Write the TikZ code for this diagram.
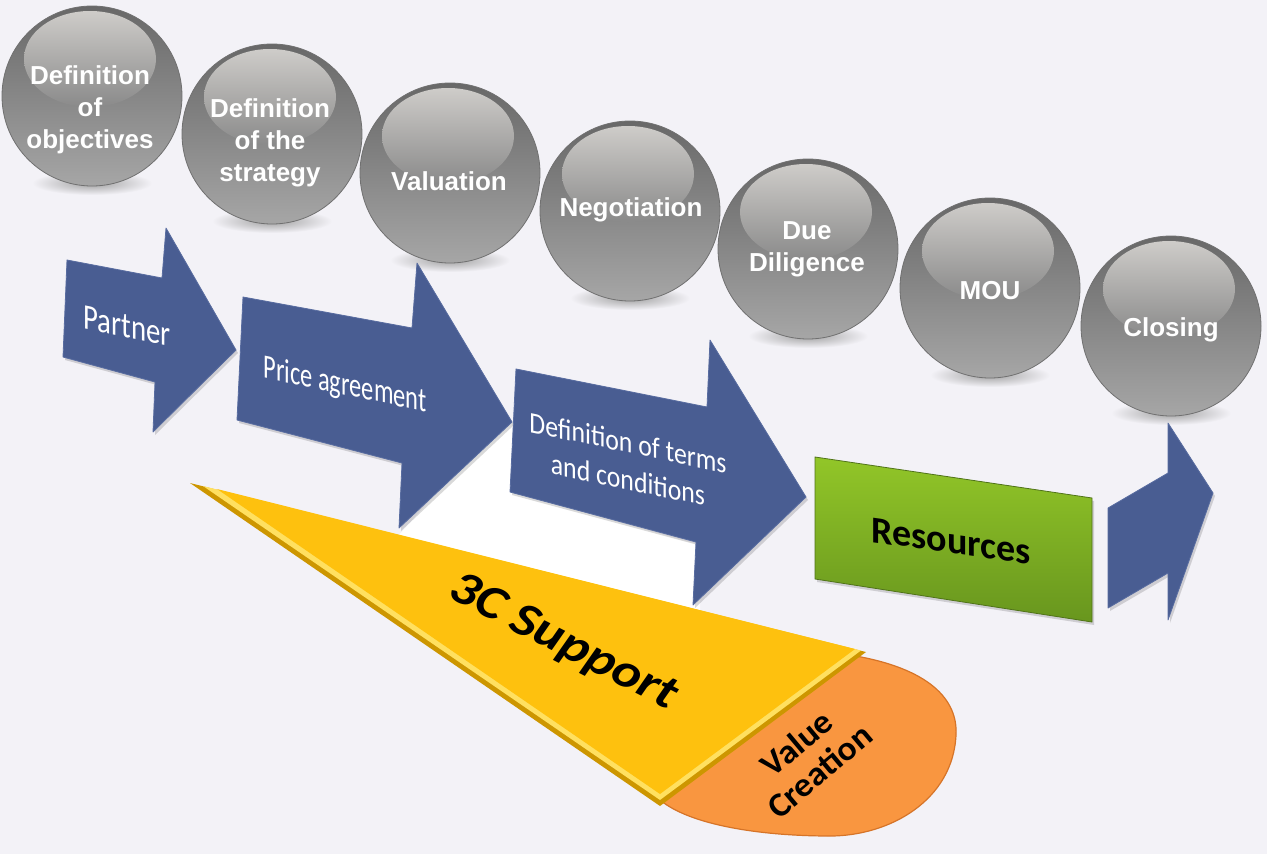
\documentclass[tikz,border=0pt]{standalone}
\usepackage{fontspec}
\setmainfont{Liberation Sans}
\newfontfamily\calfont{Carlito}
\usetikzlibrary{shapes.geometric}
\definecolor{bg}{RGB}{243,242,247}
\definecolor{arrowblue}{RGB}{73,93,146}
\definecolor{arrowedge}{RGB}{88,108,160}
\definecolor{goldmain}{RGB}{254,193,14}
\definecolor{golddark}{RGB}{205,150,0}
\definecolor{goldlight}{RGB}{255,224,96}
\definecolor{orangemain}{RGB}{249,150,64}
\definecolor{orangedark}{RGB}{214,116,40}
\definecolor{greenlight}{RGB}{146,198,40}
\definecolor{greendark}{RGB}{104,150,30}
\definecolor{greenedge}{RGB}{80,115,25}
\definecolor{balltop}{RGB}{104,104,104}
\definecolor{ballmid}{RGB}{138,138,138}
\definecolor{ballbot}{RGB}{166,166,166}
\definecolor{ballrim}{RGB}{112,112,112}
\definecolor{hltop}{RGB}{206,204,201}
\definecolor{hlbot}{RGB}{138,138,138}
\definecolor{shadowgray}{RGB}{160,160,160}
\tikzset{
  ballshadow/.style={ellipse, inner sep=0pt, minimum width=120pt, minimum height=24pt, inner color=shadowgray, outer color=bg},
  ball/.style={circle, inner sep=0pt, minimum size=180pt, top color=balltop, middle color=ballmid, bottom color=ballbot, draw=ballrim, line width=0.8pt},
  ballhl/.style={ellipse, inner sep=0pt, minimum width=132pt, minimum height=96pt, top color=hltop, bottom color=hlbot},
  balltext/.style={text=white, font=\bfseries\fontsize{26}{32}\selectfont, align=center, inner sep=0pt},
  bluearrow/.style={fill=arrowblue, draw=arrowedge, line width=0.8pt, line join=round},
  arrowshade/.style={fill=black, opacity=0.15},
  arrowtext/.style={text=white, inner sep=0pt, align=center},
  blacktext/.style={text=black, inner sep=0pt, align=center}
}
\begin{document}
\begin{tikzpicture}[x=1pt,y=-1pt]
\fill[bg] (0,0) rectangle (1267,854);
\useasboundingbox (0,0) rectangle (1267,854);

% sphere shadows
\foreach \i/\cx/\cy in {1/92/96, 2/272/134, 3/450/173, 4/630/211, 5/808/249, 6/990/288, 7/1171/326}{
  \node[ballshadow] (sh\i) at (\cx,\cy+87) {};
}
% spheres
\foreach \i/\cx/\cy in {1/92/96, 2/272/134, 3/450/173, 4/630/211, 5/808/249, 6/990/288, 7/1171/326}{
  \node[ball] (s\i) at (\cx,\cy) {};
  \node[ballhl] (h\i) at (\cx-2,\cy-37) {};
}
\node[balltext] (t1) at (90,110) {Definition\\of\\objectives};
\node[balltext] (t2) at (270,143) {Definition\\of the\\strategy};
\node[balltext] (t3) at (449,181) {Valuation};
\node[balltext] (t4) at (631,210) {Negotiation};
\node[balltext] (t5) at (807,249) {Due\\Diligence};
\node[balltext] (t6) at (990,291) {MOU};
\node[balltext] (t7) at (1171,330) {Closing};

% white patch
\fill[white] (500,422) -- (516,422) -- (512,492) -- (700,545) -- (700,612) -- (398,536) -- cycle;

% arrow shadows
\fill[arrowshade] (69,263) -- (164,281) -- (168,231) -- (238,353) -- (155,435) -- (157,385) -- (65,360) -- cycle;
\fill[arrowshade] (245,300) -- (414,331) -- (419,266) -- (514,425) -- (401,531) -- (404,466) -- (239,423) -- cycle;
\fill[arrowshade] (518,372) -- (709,410) -- (712,343) -- (808,500) -- (695,608) -- (698,545) -- (512,495) -- cycle;
\fill[arrowshade] (1110,511) -- (1170,476) -- (1170,426) -- (1215,496) -- (1170,623) -- (1170,576) -- (1110,611) -- cycle;
\fill[arrowshade] (817,460) -- (1094,501) -- (1094,625) -- (817,582) -- cycle;

% blue arrows
\path[bluearrow] (67,260) -- (162,278) -- (166,228) -- (236,350) -- (153,432) -- (155,382) -- (63,357) -- cycle;
\path[bluearrow] (243,297) -- (412,328) -- (417,263) -- (512,422) -- (399,528) -- (402,463) -- (237,420) -- cycle;
\path[bluearrow] (516,369) -- (707,407) -- (710,340) -- (806,497) -- (693,605) -- (696,542) -- (510,492) -- cycle;
\path[bluearrow] (1108,508) -- (1168,473) -- (1168,423) -- (1213,493) -- (1168,620) -- (1168,573) -- (1108,608) -- cycle;

% resources box
\path[top color=greenlight, bottom color=greendark, draw=greenedge, line width=0.8pt] (815,457) -- (1092,498) -- (1092,622) -- (815,579) -- cycle;

% arrow texts
\node[arrowtext, font=\calfont\fontsize{36}{40}\selectfont, yslant=-0.21, xscale=0.8] (partner) at (127,326) {Partner};
\node[arrowtext, font=\calfont\fontsize{34}{38}\selectfont, yslant=-0.21, xscale=0.72] (price) at (345,386) {Price agreement};
\node[arrowtext, font=\calfont\fontsize{30}{37}\selectfont, yslant=-0.21, xscale=0.86] (terms) at (628,461) {Definition of terms\\and conditions};
\node[blacktext, font=\calfont\bfseries\fontsize{38}{42}\selectfont, yslant=-0.14] (res) at (951,541) {Resources};

% orange half disc
\path[fill=orangemain, draw=orangedark, line width=1.2pt] (850,655) .. controls (930,668) and (958,700) .. (956,735) .. controls (953,800) and (890,836) .. (830,836) .. controls (760,836) and (690,825) .. (660,800) -- (760,700) -- cycle;

% yellow triangle with bevel
\fill[golddark] (190,483) -- (866,652) -- (660,806) -- cycle;
\fill[goldlight] (203,486) -- (861,650.5) -- (660,800) -- cycle;
\fill[goldmain] (217,489) -- (855,649) -- (660,794) -- cycle;

\node[blacktext, font=\calfont\bfseries\itshape\fontsize{48}{52}\selectfont, rotate=-27, xscale=1.15] (support) at (563,643) {3C Support};
\node[blacktext, font=\calfont\bfseries\fontsize{34}{36}\selectfont, rotate=40, xscale=1.05] (value) at (808,757) {Value\\Creation};
\end{tikzpicture}
\end{document}
